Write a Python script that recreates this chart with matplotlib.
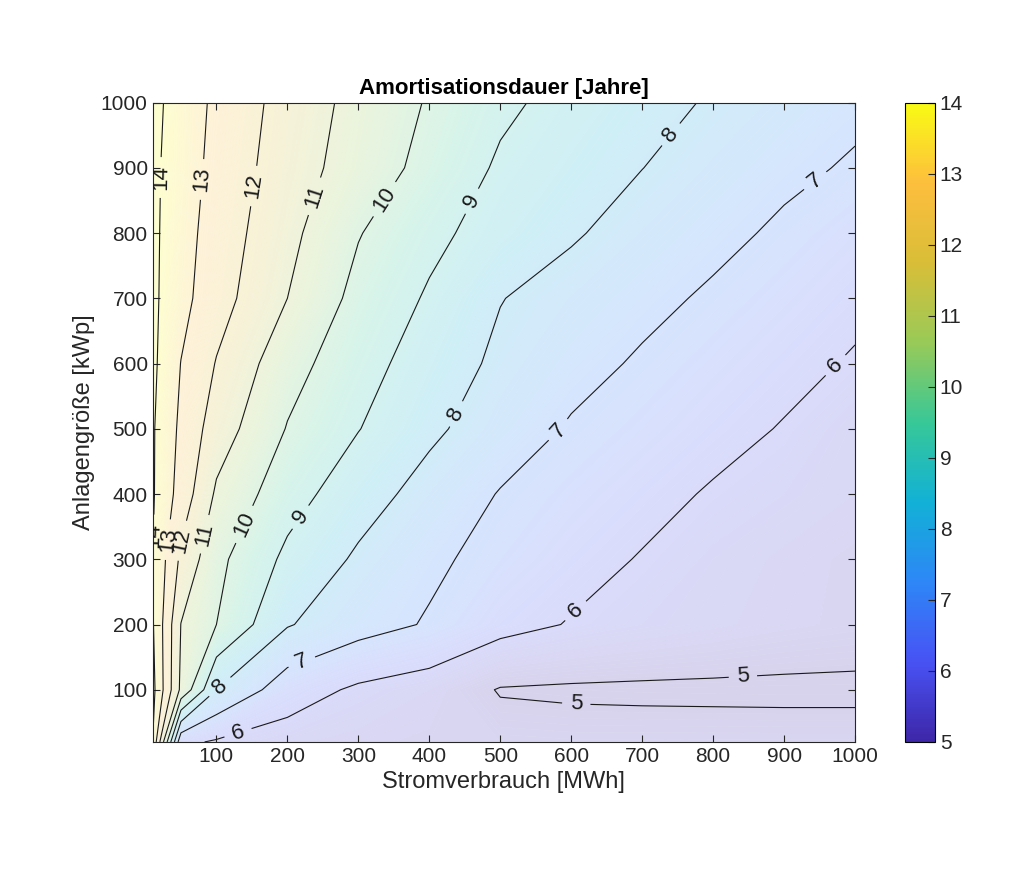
import numpy as np
import matplotlib
matplotlib.use("Agg")
import matplotlib.pyplot as plt
from matplotlib.colors import LinearSegmentedColormap

plt.rcParams["font.family"] = "Liberation Sans"

# Stromverbrauch [MWh]
x_vals = [10, 50, 100, 200, 300, 400, 500, 600, 700, 800, 900, 1000]
# Anlagengröße [kWp]
y_vals = [20, 100, 200, 300, 400, 500, 600, 700, 800, 900, 1000]
# Amortisationsdauer [Jahre], rows follow y_vals
z_rows = [
    [14.0, 6.2, 5.9, 5.6, 5.45, 5.35, 5.3, 5.27, 5.27, 5.27, 5.27, 5.27],
    [14.3, 10.8, 8.0, 6.45, 5.85, 5.55, 4.95, 4.9, 4.88, 4.87, 4.86, 4.86],
    [14.1, 10.98, 10.0, 8.07, 7.37, 6.92, 6.29, 5.95, 5.75, 5.6, 5.45, 5.35],
    [14.0, 11.8, 10.25, 8.78, 7.85, 7.17, 6.7, 6.29, 5.95, 5.7, 5.5, 5.35],
    [14.1, 12.6, 10.85, 9.4, 8.43, 7.64, 6.95, 6.6, 6.26, 5.92, 5.75, 5.55],
    [14.1, 12.8, 11.5, 9.95, 9.03, 8.19, 7.49, 6.91, 6.6, 6.27, 5.95, 5.62],
    [14.2, 12.98, 11.95, 10.37, 9.38, 8.53, 7.81, 7.3, 6.89, 6.56, 6.24, 5.92],
    [14.2, 13.3, 12.4, 11.0, 9.71, 8.89, 8.03, 7.63, 7.24, 6.87, 6.54, 6.2],
    [14.2, 13.4, 12.55, 11.26, 10.05, 9.24, 8.59, 8.1, 7.63, 7.24, 6.85, 6.5],
    [14.2, 13.5, 12.7, 11.46, 10.56, 9.7, 8.87, 8.44, 8.01, 7.6, 7.2, 6.9],
    [14.3, 13.52, 12.82, 11.6, 10.7, 9.92, 9.18, 8.7, 8.3, 7.91, 7.56, 7.2],
]
line_levels = [5, 6, 7, 8, 9, 10, 11, 12, 13, 14]
# approximate label anchor points (x, y)
label_spots = [(32, 885), (82, 882), (141, 874), (208, 867), (331, 856), (451, 854),
               (735, 956), (934, 894), (972, 598), (432, 526), (585, 495), (596, 233),
               (842, 120), (607, 74), (214, 368), (134, 356), (89, 337), (46, 330),
               (32, 330), (17, 337), (106, 103), (218, 149), (127, 46)]

parula = LinearSegmentedColormap.from_list("parula", [
    (0.0, (0.2422, 0.1504, 0.6603)),
    (0.125, (0.2810, 0.3228, 0.9579)),
    (0.25, (0.1786, 0.5289, 0.9682)),
    (0.375, (0.0689, 0.6948, 0.8394)),
    (0.5, (0.2161, 0.7843, 0.5923)),
    (0.625, (0.5967, 0.7917, 0.3433)),
    (0.75, (0.8500, 0.7450, 0.2200)),
    (0.875, (0.9932, 0.7455, 0.2399)),
    (1.0, (0.9769, 0.9839, 0.0805)),
])

X, Y = np.meshgrid(x_vals, y_vals)
Z = np.array(z_rows)

fig = plt.figure(figsize=(10.24, 8.77), dpi=100)
ax = fig.add_axes([0.149, 0.154, 0.686, 0.729])
fill_levels = np.linspace(4.5, 14.5, 201)
ax.contourf(X, Y, Z, levels=fill_levels, cmap=parula, vmin=5, vmax=14, alpha=0.2, antialiased=True)
cs = ax.contour(X, Y, Z, levels=line_levels, colors="#1a1a1a", linewidths=0.8)
ax.clabel(cs, fmt="%d", fontsize=16, inline=True, inline_spacing=8, manual=label_spots)

ax.set_xlim(10, 1000)
ax.set_ylim(20, 1000)
ax.set_xticks(range(100, 1001, 100))
ax.set_yticks(range(100, 1001, 100))
ax.tick_params(direction="in", labelsize=15, top=True, right=True, length=5, colors="#262626")
for s in ax.spines.values():
    s.set_color("#262626")
    s.set_linewidth(0.8)
ax.set_xlabel("Stromverbrauch [MWh]", fontsize=17, color="#262626")
ax.set_ylabel("Anlagengröße [kWp]", fontsize=17, color="#262626")
ax.set_title("Amortisationsdauer [Jahre]", fontsize=16, fontweight="bold", pad=6)

cax = fig.add_axes([0.884, 0.154, 0.029, 0.729])
sm = matplotlib.cm.ScalarMappable(cmap=parula, norm=matplotlib.colors.Normalize(5, 14))
cb = fig.colorbar(sm, cax=cax, ticks=range(5, 15))
cb.ax.tick_params(direction="in", labelsize=15, length=5, colors="#262626")
cb.outline.set_linewidth(0.8)

fig.savefig("out.png", dpi=100, facecolor="white")
